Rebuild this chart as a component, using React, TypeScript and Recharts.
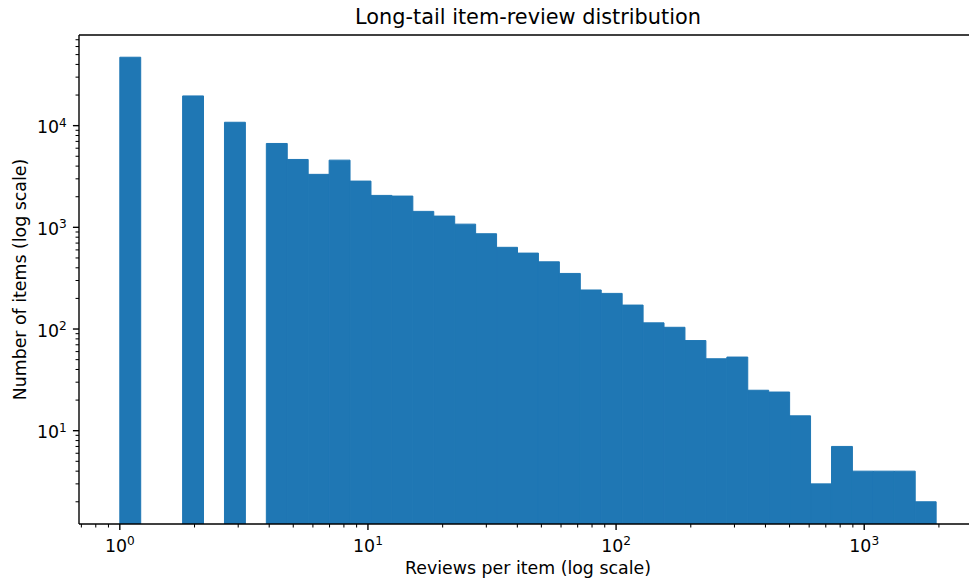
import React from 'react';
import { ComposedChart, Bar, XAxis, YAxis, Label } from 'recharts';

// Histogram bin edges (log-spaced, reviews per item)
const binEdges = [
  1, 1.214395, 1.474755, 1.790935, 2.174902, 2.641189, 3.207447, 3.895107, 4.730198, 5.744329,
  6.975885, 8.47148, 10.287723, 12.49336, 15.171874, 18.424648, 22.374802, 27.171847, 32.997355, 40.071823,
  48.663022, 59.09613, 71.766045, 87.152326, 105.837349, 128.528348, 156.084184, 189.547853, 230.185965, 279.536685,
  339.467952, 412.248183, 500.632133, 607.96516, 738.30985, 896.59979, 1088.826302, 1322.265217, 1605.752248, 1950.017502,
];

// Number of items in each bin (0 = empty bin)
const counts = [
  47100, 0, 0, 19600, 0, 10800, 0, 6680, 4650, 3320,
  4580, 2850, 2060, 2030, 1435, 1290, 1075, 865, 636, 558,
  458, 352, 242, 224, 172, 115, 104, 77, 51, 53,
  25, 24, 14, 3, 7, 4, 4, 4, 2,
];

const xMajorTicks = [1, 10, 100, 1000];
const xMinorTicks = [0.7, 0.8, 0.9, 2, 3, 4, 5, 6, 7, 8, 9, 20, 30, 40, 50, 60, 70, 80, 90, 200, 300, 400, 500, 600, 700, 800, 900, 2000];
const yMajorTicks = [10, 100, 1000, 10000];
const yMinorTicks = [2, 3, 4, 5, 6, 7, 8, 9, 20, 30, 40, 50, 60, 70, 80, 90, 200, 300, 400, 500, 600, 700, 800, 900, 2000, 3000, 4000, 5000, 6000, 7000, 8000, 9000, 20000, 30000, 40000, 50000, 60000, 70000];

const xDomain: [number, number] = [0.68471, 2848];
const yDomain: [number, number] = [1.209, 77900];

const title = 'Long-tail item-review distribution';
const xLabel = 'Reviews per item (log scale)';
const yLabel = 'Number of items (log scale)';

const data = counts.map((c, i) => ({
  center: Math.sqrt(binEdges[i] * binEdges[i + 1]),
  count: c > 0 ? c : null,
}));

const FONT = '"DejaVu Sans", sans-serif';
const LABEL_SIZE = 17.36;
const SUP_SIZE = 12.15;
const MAJOR_LEN = 6.08;
const MINOR_LEN = 3.47;
const MAJOR_W = 1.39;
const MINOR_W = 1.04;

const isMajor = (v: number, majors: number[]) => majors.some((m) => Math.abs(m - v) < 1e-9);

const XTick = (props: any) => {
  const { x, y, payload } = props;
  const v = payload.value;
  const major = isMajor(v, xMajorTicks);
  const exp = Math.round(Math.log10(v));
  return (
    <g>
      <line x1={x} x2={x} y1={y} y2={y + (major ? MAJOR_LEN : MINOR_LEN)} stroke="#000" strokeWidth={major ? MAJOR_W : MINOR_W} />
      {major && (
        <text x={x} y={y + 27.5} textAnchor="middle" fontSize={LABEL_SIZE} fontFamily={FONT} fill="#000">
          10<tspan fontSize={SUP_SIZE} dy={-6.5}>{exp}</tspan>
        </text>
      )}
    </g>
  );
};

const YTick = (props: any) => {
  const { x, y, payload } = props;
  const v = payload.value;
  const major = isMajor(v, yMajorTicks);
  const exp = Math.round(Math.log10(v));
  return (
    <g>
      <line x1={x} x2={x - (major ? MAJOR_LEN : MINOR_LEN)} y1={y} y2={y} stroke="#000" strokeWidth={major ? MAJOR_W : MINOR_W} />
      {major && (
        <text x={x - 12.2} y={y + 7.6} textAnchor="end" fontSize={LABEL_SIZE} fontFamily={FONT} fill="#000">
          10<tspan fontSize={SUP_SIZE} dy={-6.5}>{exp}</tspan>
        </text>
      )}
    </g>
  );
};

export default function App() {
  return (
    <div style={{ position: 'absolute', left: 0, top: 0, width: 969, height: 581, overflow: 'hidden', background: '#fff' }}>
      <ComposedChart
        width={990}
        height={581}
        data={data}
        margin={{ top: 34, right: 13, bottom: 17, left: 19 }}
        barCategoryGap={0}
        barGap={0}
      >
        <XAxis
          xAxisId="top"
          orientation="top"
          type="number"
          scale="log"
          dataKey="center"
          domain={xDomain}
          allowDataOverflow
          height={1}
          tick={false}
          tickLine={false}
          axisLine={{ stroke: '#000', strokeWidth: MAJOR_W }}
        >
          <Label
            content={() => (
              <text x={528} y={23.5} textAnchor="middle" fontSize={20.83} fontFamily={FONT} fill="#000">
                {title}
              </text>
            )}
          />
        </XAxis>
        <XAxis
          type="number"
          scale="log"
          dataKey="center"
          domain={xDomain}
          allowDataOverflow
          ticks={[...xMinorTicks, ...xMajorTicks]}
          interval={0}
          height={40}
          tickSize={0}
          tickMargin={0}
          tickLine={false}
          tick={<XTick />}
          axisLine={{ stroke: '#000', strokeWidth: MAJOR_W }}
        >
          <Label
            content={() => (
              <text x={528} y={574} textAnchor="middle" fontSize={LABEL_SIZE} fontFamily={FONT} fill="#000">
                {xLabel}
              </text>
            )}
          />
        </XAxis>
        <YAxis
          type="number"
          scale="log"
          domain={yDomain}
          allowDataOverflow
          ticks={[...yMinorTicks, ...yMajorTicks]}
          interval={0}
          width={60}
          tickSize={0}
          tickMargin={0}
          tickLine={false}
          tick={<YTick />}
          axisLine={{ stroke: '#000', strokeWidth: MAJOR_W }}
        >
          <Label
            content={() => (
              <text
                x={25.5}
                y={279.5}
                transform="rotate(-90 25.5 279.5)"
                textAnchor="middle"
                fontSize={LABEL_SIZE}
                fontFamily={FONT}
                fill="#000"
              >
                {yLabel}
              </text>
            )}
          />
        </YAxis>
        <Bar dataKey="count" fill="#1f77b4" stroke="#1f77b4" strokeWidth={1} barSize={20.9} isAnimationActive={false} />
      </ComposedChart>
    </div>
  );
}
